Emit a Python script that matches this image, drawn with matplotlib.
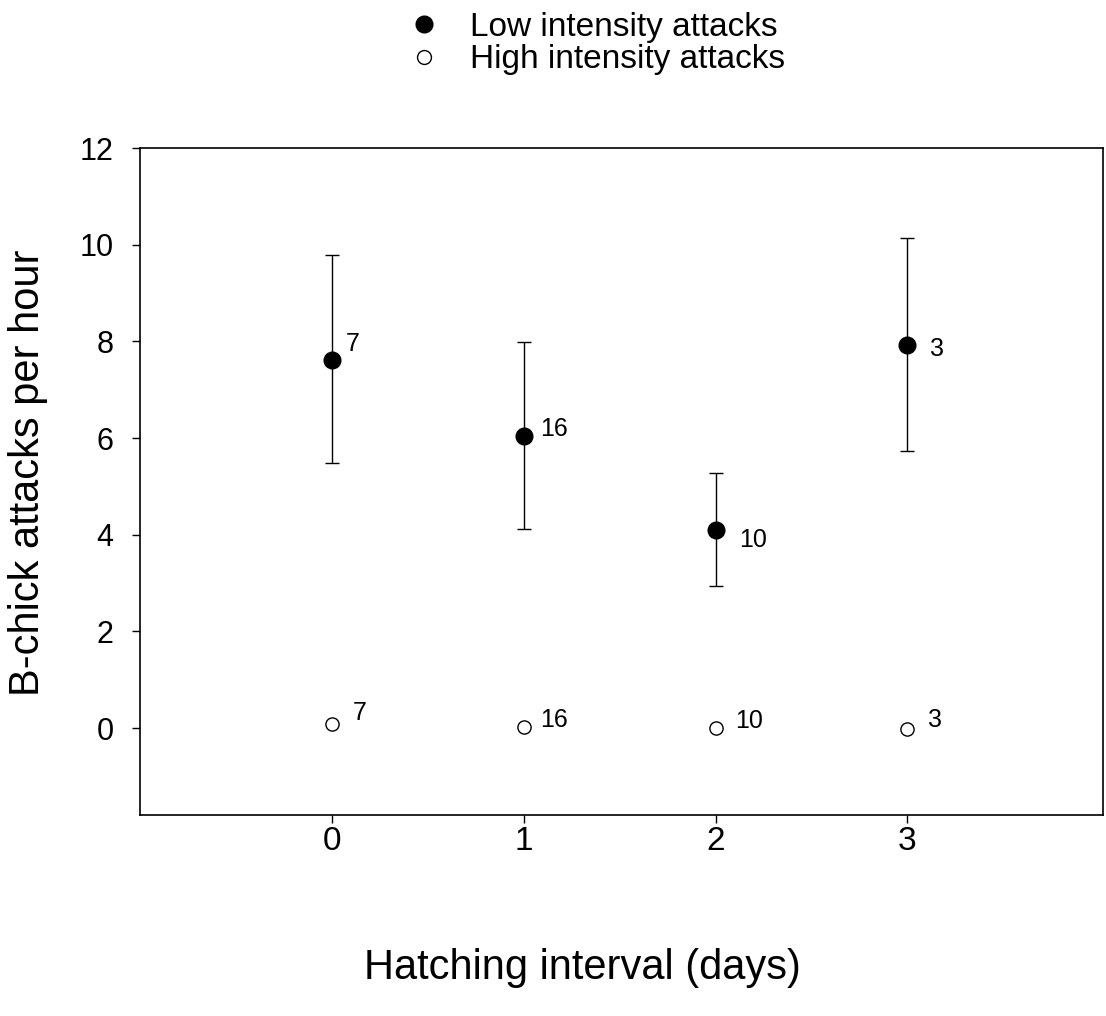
import matplotlib
matplotlib.use('Agg')
import matplotlib.pyplot as plt
from matplotlib.lines import Line2D

plt.rcParams['font.family'] = ['Liberation Sans', 'DejaVu Sans']

# hatching interval (days)
interval = [0, 1, 2, 3]

# low intensity attacks: mean with error bar ends
low_mean = [7.62, 6.05, 4.10, 7.93]
low_upper = [9.79, 7.98, 5.27, 10.14]
low_lower = [5.49, 4.12, 2.93, 5.73]

# high intensity attacks (close to zero)
high_mean = [0.08, 0.03, 0.00, -0.03]

# sample sizes written next to each point
n_labels = ['7', '16', '10', '3']

# label offsets in points (dx, dy)
low_offsets = [(10, 11), (12, 5), (17, -7), (16, -3)]
high_offsets = [(15, 8), (12, 5), (14, 5), (15, 7)]

fig = plt.figure(figsize=(11.06, 10.16), dpi=100)
ax = fig.add_axes([0.1266, 0.1978, 0.8707, 0.6565])

err_lo = [m - l for m, l in zip(low_mean, low_lower)]
err_hi = [u - m for m, u in zip(low_mean, low_upper)]
ax.errorbar(interval, low_mean, yerr=[err_lo, err_hi], fmt='o', color='black',
            markersize=12, ecolor='black', elinewidth=1, capsize=5, capthick=1)
ax.plot(interval, high_mean, 'o', markerfacecolor='white', markeredgecolor='black',
        markersize=9.5, markeredgewidth=1)

for x, y, t, off in zip(interval, low_mean, n_labels, low_offsets):
    ax.annotate(t, (x, y), xytext=off, textcoords='offset points',
                fontsize=18, va='center', ha='left')
for x, y, t, off in zip(interval, high_mean, n_labels, high_offsets):
    ax.annotate(t, (x, y), xytext=off, textcoords='offset points',
                fontsize=18, va='center', ha='left')

ax.set_xlim(-1, 4.02)
ax.set_ylim(-1.8, 12)
ax.set_xticks(interval)
ax.set_yticks([0, 2, 4, 6, 8, 10, 12])
ax.tick_params(axis='y', direction='out', length=6, width=1, labelsize=22, pad=13)
ax.tick_params(axis='x', direction='out', length=6, width=1, labelsize=24, pad=2)
for s in ax.spines.values():
    s.set_linewidth(1.2)

fig.text(0.025, 0.535, 'B-chick attacks per hour', rotation=90,
         fontsize=30, ha='center', va='center')
fig.text(0.527, 0.047, 'Hatching interval (days)', fontsize=30,
         ha='center', va='center')

handles = [
    Line2D([], [], marker='o', linestyle='none', color='black', markersize=12),
    Line2D([], [], marker='o', linestyle='none', markerfacecolor='white',
           markeredgecolor='black', markersize=10),
]
fig.legend(handles, ['Low intensity attacks', 'High intensity attacks'],
           loc='upper left', bbox_to_anchor=(0.341, 1.018), frameon=False,
           fontsize=24, handletextpad=0.9, labelspacing=0.05, handlelength=1.0)

plt.savefig('out.png', dpi=100)
